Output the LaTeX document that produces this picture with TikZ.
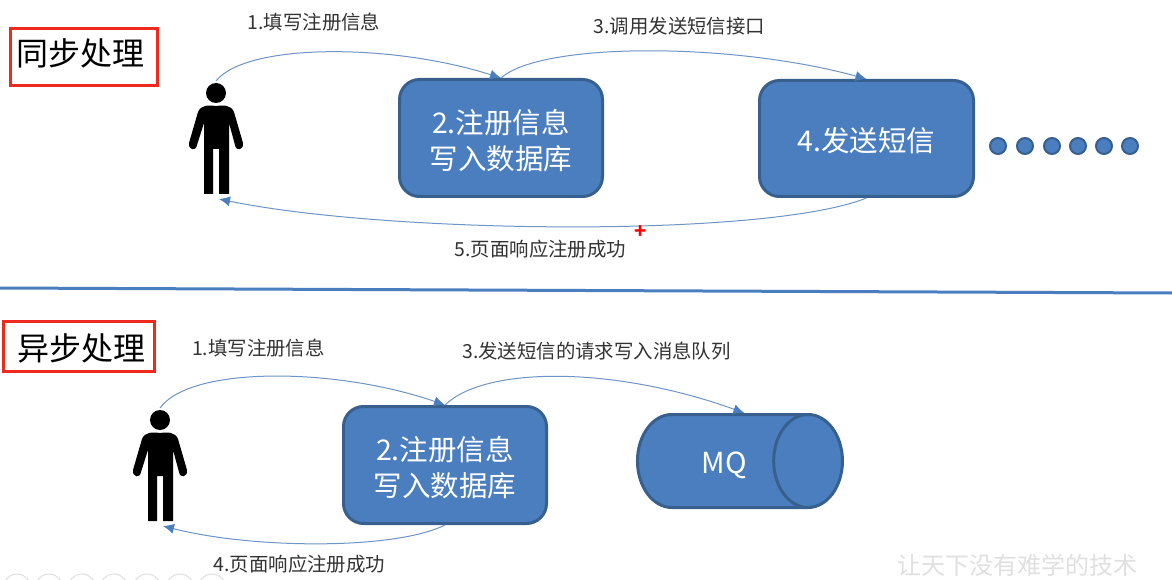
\documentclass[tikz,border=0pt]{standalone}
\usepackage{fontspec}
\setmainfont{Noto Sans CJK SC}
\usetikzlibrary{arrows.meta}
\usetikzlibrary{shapes.geometric}

\definecolor{boxfill}{HTML}{4A7EBF}
\definecolor{boxline}{HTML}{38608F}
\definecolor{curveline}{HTML}{6F94C6}
\definecolor{labeltext}{HTML}{333333}
\definecolor{titleline}{HTML}{EE2A1E}

\newcommand{\shifted}[2]{\raisebox{#1}[\height][\depth]{#2}}

\tikzset{
  x=1pt,y=-1pt,
  stagebox/.style={draw=boxline,line width=3pt,fill=boxfill,rounded corners=20pt,text=white,align=center,
    font=\fontsize{28.5}{36}\selectfont},
  queuebox/.style={cylinder,draw=boxline,line width=3pt,fill=boxfill,cylinder uses custom fill,
    cylinder body fill=boxfill,cylinder end fill=boxfill,shape aspect=2.55,minimum height=205pt,minimum width=93pt,
    text=white,font=\fontsize{29}{30}\selectfont,inner sep=0pt},
  titlebox/.style={draw=titleline,line width=3pt,fill=white,text=black,inner sep=0pt,
    font=\fontsize{32}{38}\selectfont},
  steplabel/.style={text=labeltext,inner sep=0pt,font=\fontsize{19.4}{24}\selectfont},
  flow/.style={curveline,line width=1pt,-{Latex[length=11pt,width=10pt,color=boxfill]}},
  person/.pic={
    \fill[black] (0,0) circle (10);
    \fill[black] (0,13) .. controls (-8,12) and (-15,12) .. (-18,19) -- (-27,50)
      .. controls (-28,57) and (-20,59) .. (-19,52) -- (-12,30) -- (-12,101) -- (-3,101) -- (-3,56)
      -- (3,56) -- (3,101) -- (13,101) -- (13,30) -- (19,52)
      .. controls (20,59) and (28,57) .. (27,50) -- (18,19) .. controls (15,12) and (8,12) .. (0,13) -- cycle;
    \coordinate (-top) at (0,-12);
    \coordinate (-foot) at (3,106);
  },
}

\begin{document}
\begin{tikzpicture}

\clip (0,0) rectangle (1172,580);
\fill[white] (0,0) rectangle (1172,580);

% sync part
\node[titlebox,minimum width=147pt,minimum height=57pt] (synctitle) at (84,57) {\hspace{-6pt}\shifted{4pt}{同步处理}};
\pic (syncuser) at (216,93) {person};
\node[stagebox,minimum width=203pt,minimum height=117pt] (syncdb) at (501,138) {\shifted{-3pt}{2.注册信息}\\\shifted{-3pt}{写入数据库}};
\node[stagebox,minimum width=214pt,minimum height=116pt] (sms) at (866.5,138.5) {\shifted{-2pt}{4.发送短信}};

\foreach \px in {998,1025,1052,1078,1104,1130}
  \filldraw[draw=boxline,fill=boxfill,line width=2pt] (\px,146) circle (8);

\draw[flow] (syncuser-top) .. controls +(30,-38) and +(-110,-35) .. (syncdb.north);
\draw[flow] (syncdb.north) .. controls +(40,-36) and +(-135,-37) .. (sms.north);
\draw[flow] (sms.south) .. controls +(-100,40) and +(170,35) .. (syncuser-foot);

\node[steplabel] (syncfill) at (314,22) {1.填写注册信息};
\node[steplabel] (synccall) at (679.5,26) {3.调用发送短信接口};
\node[steplabel] (syncback) at (540.5,249) {5.页面响应注册成功};
\node[text=red,inner sep=0pt,font=\fontsize{20}{20}\selectfont\bfseries] (redplus) at (640.5,232) {+};

% divider
\coordinate (divleft) at (0,288);
\coordinate (divright) at (1172,293);
\draw[boxfill,line width=3pt] (divleft) -- (divright);

% async part
\node[titlebox,minimum width=151pt,minimum height=50pt] (asynctitle) at (79,346.5) {\hspace{5pt}\shifted{-2pt}{异步处理}};
\pic (asyncuser) at (160,420) {person};
\node[stagebox,minimum width=203pt,minimum height=117pt] (asyncdb) at (445,465) {\shifted{-3pt}{2.注册信息}\\\shifted{-3pt}{写入数据库}};
\node[queuebox] (mq) at (722,461) {\hspace{4pt}\shifted{-4pt}{MQ}};

\draw[flow] (asyncuser-top) .. controls +(30,-42) and +(-110,-38) .. (asyncdb.north);
\draw[flow] (asyncdb.north) .. controls +(40,-39) and +(-130,-47) .. (mq.65);
\draw[flow] (asyncdb.south) .. controls +(-50,25) and +(90,23) .. (asyncuser-foot);

\node[steplabel] (asyncfill) at (258.5,348) {1.填写注册信息};
\node[steplabel] (asyncsend) at (596.5,351) {3.发送短信的请求写入消息队列};
\node[steplabel] (asyncback) at (299.5,564) {4.页面响应注册成功};

% screen leftovers
\foreach \cx in {17,49,82,114,147,180,212}
  \draw[black!12,line width=1pt] (\cx,588) circle (14);
\node[text=black!12,inner sep=0pt,font=\fontsize{24}{30}\selectfont] (watermark) at (1017,565) {让天下没有难学的技术};

\end{tikzpicture}
\end{document}
